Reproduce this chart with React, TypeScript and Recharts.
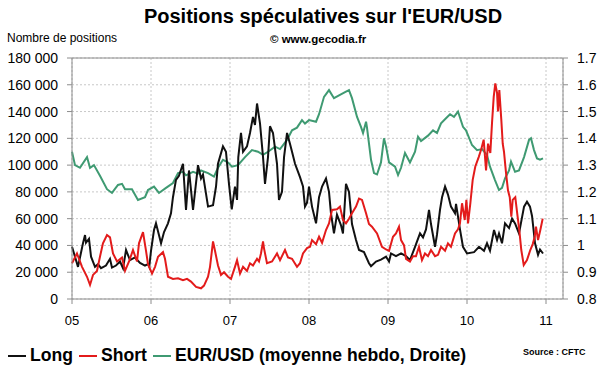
import { LineChart, Line, XAxis, YAxis, CartesianGrid, ReferenceLine } from 'recharts'

// dates as decimal years
const longPts: [number, number][] = [
  [2005.0, 39000], [2005.038, 31600], [2005.076, 24000], [2005.139, 41600], [2005.165, 47800],
  [2005.177, 42000], [2005.215, 45000], [2005.241, 31600], [2005.291, 24000], [2005.329, 26000],
  [2005.367, 23000], [2005.43, 25000], [2005.481, 30000], [2005.506, 23500], [2005.557, 25000],
  [2005.608, 28000], [2005.646, 23000], [2005.684, 36600], [2005.734, 29000], [2005.797, 31000],
  [2005.861, 27000], [2005.924, 25000], [2005.962, 26000], [2005.978, 24000], [2006.0, 36000],
  [2006.038, 51500], [2006.063, 56500], [2006.127, 41600], [2006.165, 50000], [2006.215, 56500],
  [2006.253, 64000], [2006.278, 76000], [2006.316, 89000], [2006.354, 92000], [2006.405, 101000],
  [2006.443, 66500], [2006.481, 96000], [2006.532, 66500], [2006.595, 100000], [2006.633, 90000],
  [2006.658, 93000], [2006.722, 69000], [2006.785, 70000], [2006.823, 84000], [2006.848, 101000],
  [2006.911, 114000], [2006.949, 110000], [2006.987, 86000], [2007.022, 67000], [2007.063, 84000],
  [2007.089, 74000], [2007.105, 106000], [2007.139, 124000], [2007.165, 110000], [2007.215, 114000],
  [2007.253, 124000], [2007.291, 136000], [2007.316, 130000], [2007.342, 146000], [2007.38, 131000],
  [2007.418, 106000], [2007.443, 86000], [2007.481, 106000], [2007.506, 129000], [2007.544, 124000],
  [2007.595, 101000], [2007.62, 74000], [2007.658, 80000], [2007.684, 106000], [2007.722, 124000],
  [2007.759, 116000], [2007.785, 110000], [2007.823, 101000], [2007.886, 91000], [2007.924, 84000],
  [2007.949, 69000], [2007.975, 72000], [2008.0, 84000], [2008.038, 69000], [2008.089, 56500],
  [2008.127, 76000], [2008.165, 84000], [2008.215, 90000], [2008.253, 80000], [2008.278, 64000],
  [2008.316, 49000], [2008.354, 63000], [2008.405, 55000], [2008.43, 49000], [2008.468, 86000],
  [2008.506, 80000], [2008.532, 64000], [2008.544, 56000], [2008.595, 44000], [2008.633, 36600],
  [2008.696, 35000], [2008.759, 26700], [2008.785, 24500], [2008.848, 28000], [2008.911, 29400],
  [2008.975, 31600], [2009.013, 28000], [2009.038, 34000], [2009.101, 32000], [2009.165, 34000],
  [2009.228, 32000], [2009.278, 29000], [2009.342, 39000], [2009.405, 49000], [2009.443, 46000],
  [2009.481, 52000], [2009.519, 66500], [2009.544, 56000], [2009.595, 39000], [2009.62, 48000],
  [2009.658, 66500], [2009.684, 76000], [2009.722, 84000], [2009.759, 78000], [2009.797, 69000],
  [2009.848, 64000], [2009.861, 71000], [2009.911, 52000], [2009.949, 39000], [2010.0, 34000],
  [2010.089, 35000], [2010.152, 39000], [2010.215, 36000], [2010.253, 41600], [2010.291, 36000],
  [2010.342, 51500], [2010.38, 44000], [2010.405, 49000], [2010.443, 41600], [2010.481, 56500],
  [2010.532, 53000], [2010.57, 60000], [2010.608, 56500], [2010.658, 49000], [2010.722, 69000],
  [2010.759, 72700], [2010.797, 69000], [2010.823, 62000], [2010.861, 41600], [2010.899, 33000],
  [2010.924, 37000], [2010.962, 34000],
]

const shortPts: [number, number][] = [
  [2005.0, 26700], [2005.063, 34000], [2005.127, 24000], [2005.19, 16600], [2005.228, 10500],
  [2005.266, 18000], [2005.316, 21000], [2005.354, 31600], [2005.392, 41600], [2005.443, 47800],
  [2005.481, 46000], [2005.519, 34000], [2005.57, 28000], [2005.633, 31000], [2005.671, 21000],
  [2005.722, 28000], [2005.772, 36600], [2005.823, 28000], [2005.848, 41600], [2005.899, 50000],
  [2005.937, 36000], [2005.962, 26000], [2006.013, 19000], [2006.051, 24000], [2006.089, 31600],
  [2006.152, 35000], [2006.177, 30000], [2006.215, 16600], [2006.278, 15000], [2006.342, 15500],
  [2006.405, 14000], [2006.456, 15000], [2006.506, 13000], [2006.57, 9000], [2006.633, 8000],
  [2006.671, 10000], [2006.722, 16600], [2006.747, 24000], [2006.785, 43000], [2006.81, 36000],
  [2006.848, 25000], [2006.886, 18000], [2006.924, 20000], [2006.975, 16600], [2007.013, 15000],
  [2007.063, 24000], [2007.089, 29000], [2007.127, 19000], [2007.165, 24000], [2007.215, 21000],
  [2007.253, 26700], [2007.291, 25000], [2007.342, 30000], [2007.367, 28000], [2007.392, 34000],
  [2007.418, 43000], [2007.43, 38000], [2007.468, 26700], [2007.532, 28000], [2007.595, 34000],
  [2007.633, 29000], [2007.696, 36600], [2007.734, 31000], [2007.785, 30000], [2007.848, 24000],
  [2007.886, 26700], [2007.924, 34000], [2007.975, 38000], [2008.013, 39000], [2008.038, 44000],
  [2008.089, 41000], [2008.127, 46500], [2008.165, 42000], [2008.215, 51500], [2008.253, 56500],
  [2008.291, 66500], [2008.354, 67000], [2008.392, 69000], [2008.43, 59000], [2008.468, 56500],
  [2008.506, 60000], [2008.544, 64000], [2008.595, 69000], [2008.633, 75000], [2008.671, 74000],
  [2008.722, 64000], [2008.759, 56000], [2008.797, 54000], [2008.861, 49000], [2008.924, 39000],
  [2008.975, 37000], [2009.013, 36000], [2009.063, 46500], [2009.101, 49000], [2009.139, 54000],
  [2009.165, 44000], [2009.203, 40000], [2009.228, 30000], [2009.278, 28000], [2009.316, 32000],
  [2009.354, 32000], [2009.392, 39000], [2009.43, 29000], [2009.468, 34000], [2009.506, 32000],
  [2009.544, 36600], [2009.595, 32000], [2009.633, 33000], [2009.671, 39000], [2009.722, 36000],
  [2009.759, 41600], [2009.797, 39000], [2009.848, 49000], [2009.886, 52000], [2009.911, 56500],
  [2009.937, 71500], [2009.971, 59000], [2009.992, 74000], [2010.013, 56500], [2010.042, 71500],
  [2010.072, 89000], [2010.105, 99000], [2010.148, 106000], [2010.181, 112000], [2010.211, 119000],
  [2010.241, 96000], [2010.266, 116000], [2010.295, 109000], [2010.316, 131000], [2010.338, 151000],
  [2010.358, 161000], [2010.38, 154000], [2010.392, 140000], [2010.409, 156000], [2010.434, 134000],
  [2010.452, 116000], [2010.468, 110000], [2010.494, 94000], [2010.519, 81000], [2010.541, 76000],
  [2010.561, 61500], [2010.578, 74000], [2010.611, 76000], [2010.633, 65000], [2010.662, 51500],
  [2010.687, 36600], [2010.718, 25400], [2010.759, 29000], [2010.801, 36600], [2010.832, 41000],
  [2010.857, 46500], [2010.873, 54000], [2010.899, 44000], [2010.928, 51500], [2010.958, 60000],
]

const eurUsdPts: [number, number][] = [
  [2005.0, 1.35], [2005.038, 1.3], [2005.101, 1.29], [2005.19, 1.33], [2005.228, 1.29],
  [2005.278, 1.3], [2005.354, 1.26], [2005.443, 1.21], [2005.506, 1.196], [2005.582, 1.226],
  [2005.633, 1.23], [2005.671, 1.21], [2005.759, 1.21], [2005.835, 1.17], [2005.924, 1.18],
  [2005.962, 1.207], [2006.038, 1.22], [2006.101, 1.196], [2006.19, 1.215], [2006.278, 1.233],
  [2006.342, 1.27], [2006.405, 1.275], [2006.443, 1.262], [2006.532, 1.275], [2006.595, 1.268],
  [2006.633, 1.28], [2006.722, 1.27], [2006.797, 1.257], [2006.848, 1.29], [2006.911, 1.32],
  [2006.975, 1.31], [2007.025, 1.294], [2007.101, 1.3], [2007.19, 1.33], [2007.278, 1.356],
  [2007.354, 1.35], [2007.418, 1.338], [2007.481, 1.35], [2007.57, 1.369], [2007.633, 1.36],
  [2007.722, 1.394], [2007.785, 1.43], [2007.848, 1.44], [2007.911, 1.468], [2007.949, 1.455],
  [2008.0, 1.468], [2008.089, 1.462], [2008.127, 1.49], [2008.19, 1.555], [2008.253, 1.58],
  [2008.316, 1.55], [2008.38, 1.56], [2008.468, 1.574], [2008.506, 1.58], [2008.544, 1.55],
  [2008.608, 1.48], [2008.658, 1.443], [2008.684, 1.42], [2008.722, 1.462], [2008.734, 1.44],
  [2008.785, 1.32], [2008.823, 1.27], [2008.861, 1.265], [2008.911, 1.31], [2008.949, 1.4],
  [2008.975, 1.37], [2009.013, 1.31], [2009.089, 1.294], [2009.127, 1.263], [2009.165, 1.29],
  [2009.215, 1.345], [2009.278, 1.31], [2009.342, 1.35], [2009.38, 1.406], [2009.418, 1.39],
  [2009.506, 1.41], [2009.57, 1.43], [2009.62, 1.42], [2009.671, 1.456], [2009.734, 1.475],
  [2009.785, 1.49], [2009.835, 1.48], [2009.886, 1.5], [2009.949, 1.443], [2009.987, 1.43],
  [2010.063, 1.375], [2010.127, 1.356], [2010.19, 1.36], [2010.253, 1.338], [2010.291, 1.294],
  [2010.354, 1.244], [2010.405, 1.207], [2010.443, 1.215], [2010.481, 1.25], [2010.532, 1.28],
  [2010.557, 1.313], [2010.608, 1.275], [2010.658, 1.28], [2010.722, 1.33], [2010.785, 1.394],
  [2010.81, 1.4], [2010.848, 1.356], [2010.886, 1.325], [2010.924, 1.32], [2010.962, 1.325],
]

const yearTicks = [2005, 2006, 2007, 2008, 2009, 2010, 2011]
const leftTicks = [0, 20000, 40000, 60000, 80000, 100000, 120000, 140000, 160000, 180000]
const rightTicks = [0.8, 0.9, 1.0, 1.1, 1.2, 1.3, 1.4, 1.5, 1.6, 1.7]

const font = '"Liberation Sans", Arial, sans-serif'
const BLACK = '#111111'
const RED = '#e31b1b'
const GREEN = '#3f9a72'
const AXIS = '#8c8c8c'

const toRows = (pts: [number, number][]) => pts.map(([t, v]) => ({ t, v }))
const fmtThousands = (v: number) => (v === 0 ? '0' : `${Math.floor(v / 1000)} 000`)
const fmtRate = (v: number) => String(Number(v.toFixed(1)))

function LegendItem({ color, label }: { color: string; label: string }) {
  return (
    <span style={{ display: 'inline-flex', alignItems: 'center', marginRight: 6 }}>
      <span style={{ width: 18, height: 2, background: color, display: 'inline-block', marginRight: 4 }} />
      {label}
    </span>
  )
}

export default function App() {
  return (
    <div style={{ position: 'absolute', left: 0, top: 0, width: 600, height: 372, background: '#fff', fontFamily: font }}>
      <div style={{ position: 'absolute', left: 0, width: 646, top: 5, textAlign: 'center', fontSize: 20, fontWeight: 700 }}>
        Positions spéculatives sur l'EUR/USD
      </div>
      <div style={{ position: 'absolute', left: 7, top: 31, fontSize: 12 }}>Nombre de positions</div>
      <div style={{ position: 'absolute', left: 270, top: 33, fontSize: 11.5, fontWeight: 700 }}>© www.gecodia.fr</div>

      <LineChart width={600} height={372} margin={{ top: 58, right: 0, bottom: 43, left: 0 }} style={{ position: 'absolute', left: 0, top: 0 }}>
        <CartesianGrid yAxisId="left" strokeDasharray="2 2" stroke="#c8c8c8" />
        <XAxis
          dataKey="t"
          type="number"
          domain={[2005, 2011.215]}
          ticks={yearTicks}
          tickFormatter={(v) => String(v).slice(2)}
          allowDuplicatedCategory={false}
          stroke={AXIS}
          tickSize={5}
          tickMargin={12}
          height={30}
          tick={{ fill: '#000', fontSize: 13, fontFamily: font }}
        />
        <YAxis
          yAxisId="left"
          domain={[0, 180000]}
          ticks={leftTicks}
          tickFormatter={fmtThousands}
          width={72}
          stroke={AXIS}
          tickSize={5}
          tickMargin={9}
          tick={{ fill: '#000', fontSize: 14, fontFamily: font }}
        />
        <YAxis
          yAxisId="right"
          orientation="right"
          domain={[0.8, 1.7]}
          ticks={rightTicks}
          tickFormatter={fmtRate}
          width={37}
          stroke={AXIS}
          tickSize={5}
          tickMargin={9}
          tick={{ fill: '#000', fontSize: 14, fontFamily: font }}
        />
        <ReferenceLine yAxisId="left" y={180000} stroke={AXIS} />
        <Line yAxisId="right" data={toRows(eurUsdPts)} dataKey="v" stroke={GREEN} strokeWidth={2} dot={false} isAnimationActive={false} />
        <Line yAxisId="left" data={toRows(longPts)} dataKey="v" stroke={BLACK} strokeWidth={2} dot={false} isAnimationActive={false} />
        <Line yAxisId="left" data={toRows(shortPts)} dataKey="v" stroke={RED} strokeWidth={2} dot={false} isAnimationActive={false} />
      </LineChart>

      <div style={{ position: 'absolute', left: 8, top: 345, fontSize: 17.6, fontWeight: 700, display: 'flex' }}>
        <LegendItem color={BLACK} label="Long" />
        <LegendItem color={RED} label="Short" />
        <LegendItem color={GREEN} label="EUR/USD (moyenne hebdo, Droite)" />
      </div>
      <div style={{ position: 'absolute', left: 523, top: 347, fontSize: 9, fontWeight: 700 }}>Source : CFTC</div>
    </div>
  )
}
